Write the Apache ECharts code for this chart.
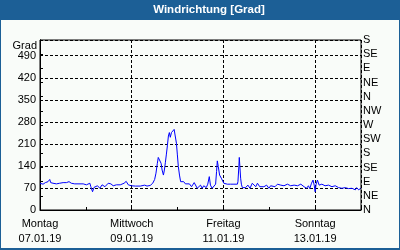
<!DOCTYPE html>
<html>
<head>
<meta charset="utf-8">
<script src="https://cdn.jsdelivr.net/npm/echarts@6/dist/echarts.min.js"></script>
<style>
html,body{margin:0;padding:0;background:#f9fcf9;}
#c{width:400px;height:250px;}
</style>
</head>
<body>
<div id="c"></div>
<script>
// Hours since Montag 07.01.19 00:00
var hours = [0,1.6,2.8,4.2,5.1,5.6,6.8,8.6,10.3,12.1,13.8,15.2,16.4,18.2,19.9,22.6,24.3,25.2,26.1,26.6,27.5,28.3,29.0,30.1,31.3,32.5,34.0,35.7,37.1,38.3,40.0,42.0,44.0,45.1,46.2,46.9,47.8,
48.1,49.9,52.5,54.8,56.0,57.7,59.0,60.0,60.7,61.4,61.9,62.8,63.4,63.9,64.6,65.1,65.6,66.1,66.7,67.2,67.7,68.2,68.8,69.1,70.2,70.9,71.4,71.9,72.4,73.0,73.6,74.4,75.2,76.1,77.0,78.2,79.3,79.9,80.7,
82.3,83.1,84.0,84.9,85.7,87.0,87.8,88.6,89.2,90.1,91.0,91.9,92.4,92.8,93.3,94.0,94.9,95.7,96.2,98.0,99.7,101.5,103.3,103.6,104.1,104.3,104.6,105.0,105.4,105.9,106.7,107.6,108.8,109.9,111.1,112.0,112.9,113.8,115.0,116.0,117.2,118.6,119.8,
120.7,121.6,123.0,124.3,126.0,127.7,129.5,131.2,133.0,134.8,136.5,138.2,139.5,140.5,141.2,142.1,142.9,143.5,144.0,144.5,145.2,146.1,147.5,149.2,151.0,152.8,154.5,156.3,158.0,159.7,161.5,163.3,165.0,165.7,166.8,167.8];
// Wind direction in degrees
var windDir = [85,82,87,90,97,87,85,83,85,87,87,90,85,83,83,83,80,83,85,74,58,72,66,77,69,80,74,85,83,77,80,80,85,91,80,74,77,
76,76,76,79,76,78,85,97,117,148,167,167,148,127,111,127,150,175,206,235,246,231,246,252,256,254,212,175,138,111,90,85,90,83,87,83,74,69,87,
69,74,79,69,77,71,82,106,79,69,71,82,122,156,138,111,101,98,85,82,82,82,82,90,140,167,167,101,82,71,77,71,79,69,85,79,74,85,74,79,74,79,69,
77,82,74,82,79,77,82,77,79,77,82,74,69,77,68,85,95,79,58,82,95,79,82,77,79,74,77,71,69,71,68,69,64,71,64,69];

var dayNames = ['Montag','Mittwoch','Freitag','Sonntag'];
var dayDates = ['07.01.19','09.01.19','11.01.19','13.01.19'];
var leftTicks = [0,70,140,210,280,350,420,490];
var dirLabels = ['N','NE','E','SE','S','SW','W','NW','N','NE','E','SE','S'];

var FONT = 'Liberation Sans';
var chart = echarts.init(document.getElementById('c'), null, {renderer:'canvas'});
var pts = hours.map(function(h,i){return [h, windDir[i]];});

chart.setOption({
  animation:false,
  backgroundColor:'#f9fcf9',
  grid:{left:40,right:39,top:40,bottom:40,show:true,borderColor:'#000',borderWidth:1,backgroundColor:'transparent'},
  xAxis:[{
    type:'value',min:0,max:168,interval:48,position:'bottom',
    axisLine:{show:true,lineStyle:{color:'#000',width:1}},
    axisTick:{show:false},
    axisLabel:{color:'#000',fontFamily:FONT,fontSize:11,lineHeight:15,margin:6,
      formatter:function(v){var i=Math.round(v/48); if(v%48!==0||i>=dayNames.length) return ''; return dayNames[i]+'\n'+dayDates[i];}},
    splitLine:{show:true,lineStyle:{color:'#000',type:[3,2],width:1}}
  },{
    type:'value',min:0,max:168,interval:24,position:'bottom',
    axisLine:{show:false},
    axisTick:{show:true,inside:true,length:3,lineStyle:{color:'#000'}},
    axisLabel:{show:false},
    splitLine:{show:false}
  }],
  yAxis:[{
    type:'value',min:0,max:540,interval:70,position:'left',
    axisLine:{show:true,lineStyle:{color:'#000',width:1}},
    axisTick:{show:false},
    axisLabel:{color:'#000',fontFamily:FONT,fontSize:11,margin:4,
      formatter:function(v){return leftTicks.indexOf(v)>=0?String(v):'';}},
    splitLine:{show:true,lineStyle:{color:'#000',type:[3,2],width:1}}
  },{
    type:'value',min:0,max:540,interval:45,position:'right',
    axisLine:{show:true,lineStyle:{color:'#000',width:1}},
    axisTick:{show:true,length:3,lineStyle:{color:'#000'}},
    axisLabel:{color:'#000',fontFamily:FONT,fontSize:11,margin:2,
      formatter:function(v){var i=Math.round(v/45); return dirLabels[i]||'';}},
    splitLine:{show:false}
  }],
  series:[{
    type:'line',xAxisIndex:0,yAxisIndex:0,data:pts,showSymbol:false,
    lineStyle:{color:'#0000ff',width:1},
    itemStyle:{color:'#0000ff'}
  }],
  graphic:[
    {type:'rect',shape:{x:0,y:0,width:400,height:20},style:{fill:'#1c5f96'},z:100},
    {type:'rect',shape:{x:0,y:0,width:1,height:250},style:{fill:'#1c5f96'},z:100},
    {type:'rect',shape:{x:399,y:0,width:1,height:250},style:{fill:'#1c5f96'},z:100},
    {type:'rect',shape:{x:0,y:248,width:400,height:2},style:{fill:'#1c5f96'},z:100},
    {type:'text',x:209,y:10,z:101,style:{text:'Windrichtung [Grad]',fill:'#fff',font:'bold 11.5px "Liberation Sans"',align:'center',verticalAlign:'middle',textAlign:'center',textVerticalAlign:'middle'}},
    {type:'text',x:37,y:46,z:101,style:{text:'Grad',fill:'#000',font:'11px "Liberation Sans"',align:'right',verticalAlign:'middle',textAlign:'right',textVerticalAlign:'middle'}}
  ]
});
</script>
</body>
</html>
